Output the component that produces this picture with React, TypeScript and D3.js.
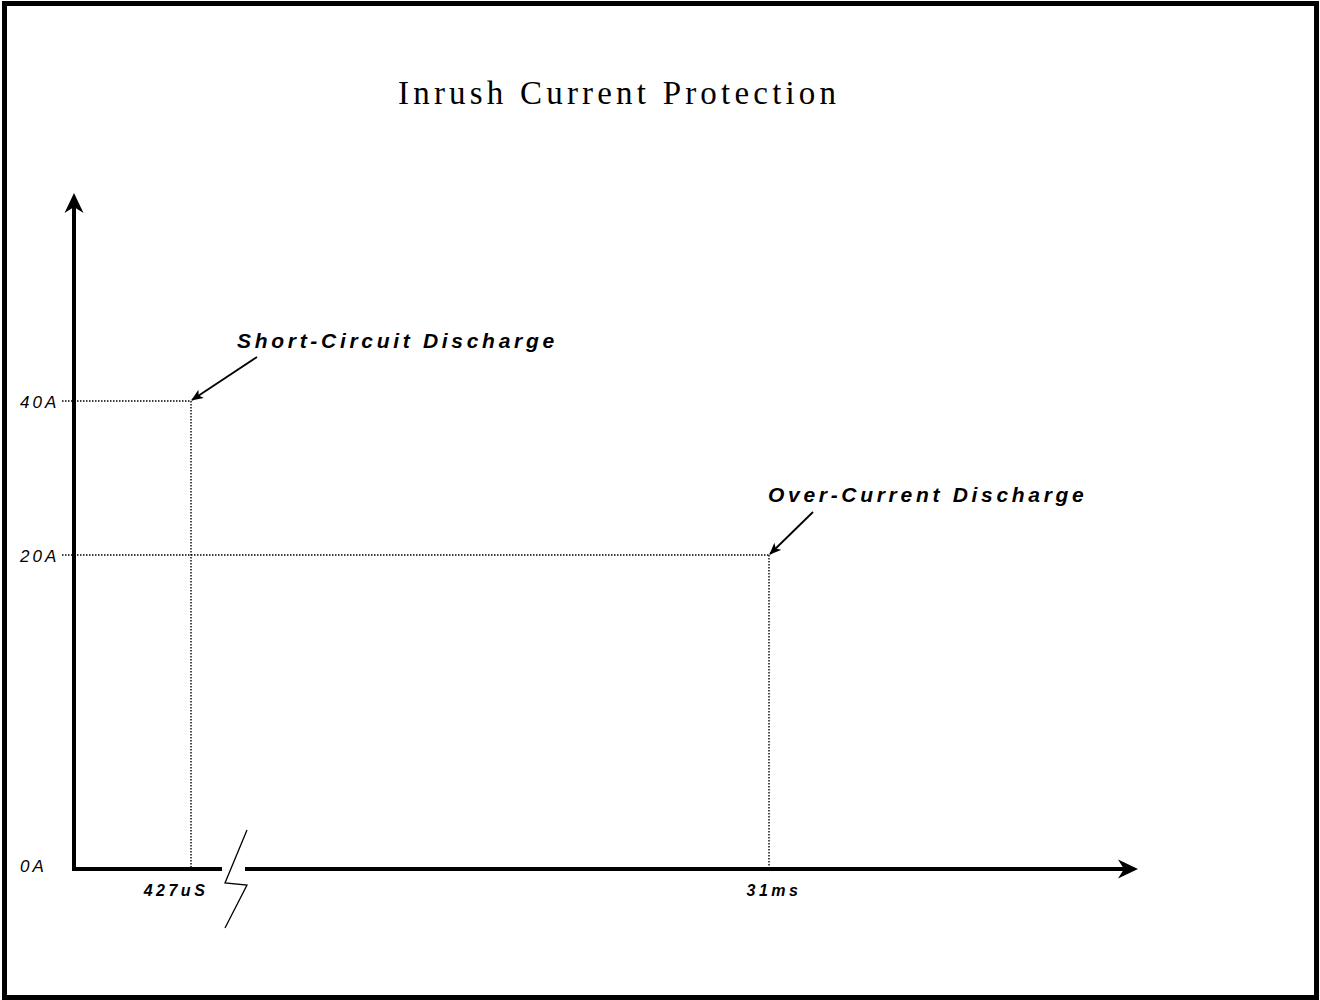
import * as d3 from "d3"

// y-axis ticks (amps)
const currentTicks = [0, 20, 40]
const currentTickLabels = ["0A", "20A", "40A"]

// discharge events
const eventNames = ["Short-Circuit Discharge", "Over-Current Discharge"]
const eventTimesMs = [0.427, 31]
const eventTimeLabels = ["427uS", "31ms"]
const eventCurrents = [40, 20]

const title = "Inrush Current Protection"

const width = 1320
const height = 1000

// schematic axis (not to scale) - piecewise scales
const x = d3.scaleLinear().domain([0, 0.427, 31]).range([74, 191, 769])
const y = d3.scaleLinear().domain([0, 20, 40]).range([869, 555, 401])

const axisTop = 193
const axisRight = 1138
const breakGap = [222, 245]

// label placement relative to the event point
const labelDx = [46, -1]
const timeLabelDx = [-15, 5]
const arrowStart = [
  [66, -44],
  [44, -43],
]

export default function App() {
  const x0 = x(0)
  const y0 = y(0)
  const sans = "'Liberation Sans', Arial, sans-serif"

  const arrowHead = (tipX: number, tipY: number, dir: "up" | "right") => {
    const L = 20
    const W = 9.5
    const N = 6
    if (dir === "up") {
      return `M${tipX},${tipY} L${tipX + W},${tipY + L} L${tipX},${tipY + L - N} L${tipX - W},${tipY + L} Z`
    }
    return `M${tipX},${tipY} L${tipX - L},${tipY - W} L${tipX - L + N},${tipY} L${tipX - L},${tipY + W} Z`
  }

  return (
    <svg
      width={width}
      height={height}
      style={{ position: "absolute", left: 0, top: 0, background: "#fff" }}
    >
      <defs>
        <marker
          id="ann"
          viewBox="0 0 12 10"
          refX="11"
          refY="5"
          markerWidth="12"
          markerHeight="10"
          markerUnits="userSpaceOnUse"
          orient="auto"
        >
          <path d="M0,0 L12,5 L0,10 L3,5 Z" fill="#000" />
        </marker>
      </defs>

      {/* frame */}
      <rect x={4.5} y={3.5} width={1312} height={994} fill="none" stroke="#000" strokeWidth={5} />

      {/* title */}
      <text
        x={398}
        y={104}
        fontFamily="'Liberation Serif', 'Times New Roman', serif"
        fontSize={33}
        letterSpacing={4.2}
        fill="#000"
      >
        {title}
      </text>

      {/* dotted guide lines */}
      {eventNames.map((n, i) => (
        <g key={"g" + n} stroke="#000" strokeWidth={1.4} strokeDasharray="1.5,1.5" fill="none">
          <line x1={62} x2={x(eventTimesMs[i])} y1={y(eventCurrents[i])} y2={y(eventCurrents[i])} />
          <line x1={x(eventTimesMs[i])} x2={x(eventTimesMs[i])} y1={y(eventCurrents[i])} y2={y0} />
        </g>
      ))}

      {/* y axis */}
      <line x1={x0} x2={x0} y1={y0 + 2} y2={axisTop + 14} stroke="#000" strokeWidth={4} />
      <path d={arrowHead(x0, axisTop, "up")} fill="#000" />

      {/* x axis with break */}
      <line x1={x0 - 2} x2={breakGap[0]} y1={y0} y2={y0} stroke="#000" strokeWidth={4} />
      <line x1={breakGap[1]} x2={axisRight - 14} y1={y0} y2={y0} stroke="#000" strokeWidth={4} />
      <path d={arrowHead(axisRight, y0, "right")} fill="#000" />
      <polyline
        points="247,830 225,883 247,885 225,928"
        fill="none"
        stroke="#000"
        strokeWidth={1.3}
      />

      {/* y tick labels */}
      {currentTicks.map((v, i) => (
        <text
          key={"yt" + v}
          x={20}
          y={y(v) + (v === 0 ? 3 : 7)}
          fontFamily={sans}
          fontStyle="italic"
          fontSize={17}
          letterSpacing={3}
          fill="#000"
        >
          {currentTickLabels[i]}
        </text>
      ))}

      {/* x labels */}
      {eventTimesMs.map((t, i) => (
        <text
          key={"xt" + t}
          x={x(t) + timeLabelDx[i]}
          y={896}
          textAnchor="middle"
          fontFamily={sans}
          fontStyle="italic"
          fontWeight="bold"
          fontSize={16}
          letterSpacing={3.5}
          fill="#000"
        >
          {eventTimeLabels[i]}
        </text>
      ))}

      {/* annotations */}
      {eventNames.map((n, i) => {
        const px = x(eventTimesMs[i])
        const py = y(eventCurrents[i])
        return (
          <g key={"a" + n}>
            <text
              x={px + labelDx[i]}
              y={py - 53}
              fontFamily={sans}
              fontStyle="italic"
              fontWeight="bold"
              fontSize={21}
              letterSpacing={3.7}
              fill="#000"
            >
              {n}
            </text>
            <line
              x1={px + arrowStart[i][0]}
              y1={py + arrowStart[i][1]}
              x2={px + 1}
              y2={py - 1}
              stroke="#000"
              strokeWidth={1.8}
              markerEnd="url(#ann)"
            />
          </g>
        )
      })}
    </svg>
  )
}
